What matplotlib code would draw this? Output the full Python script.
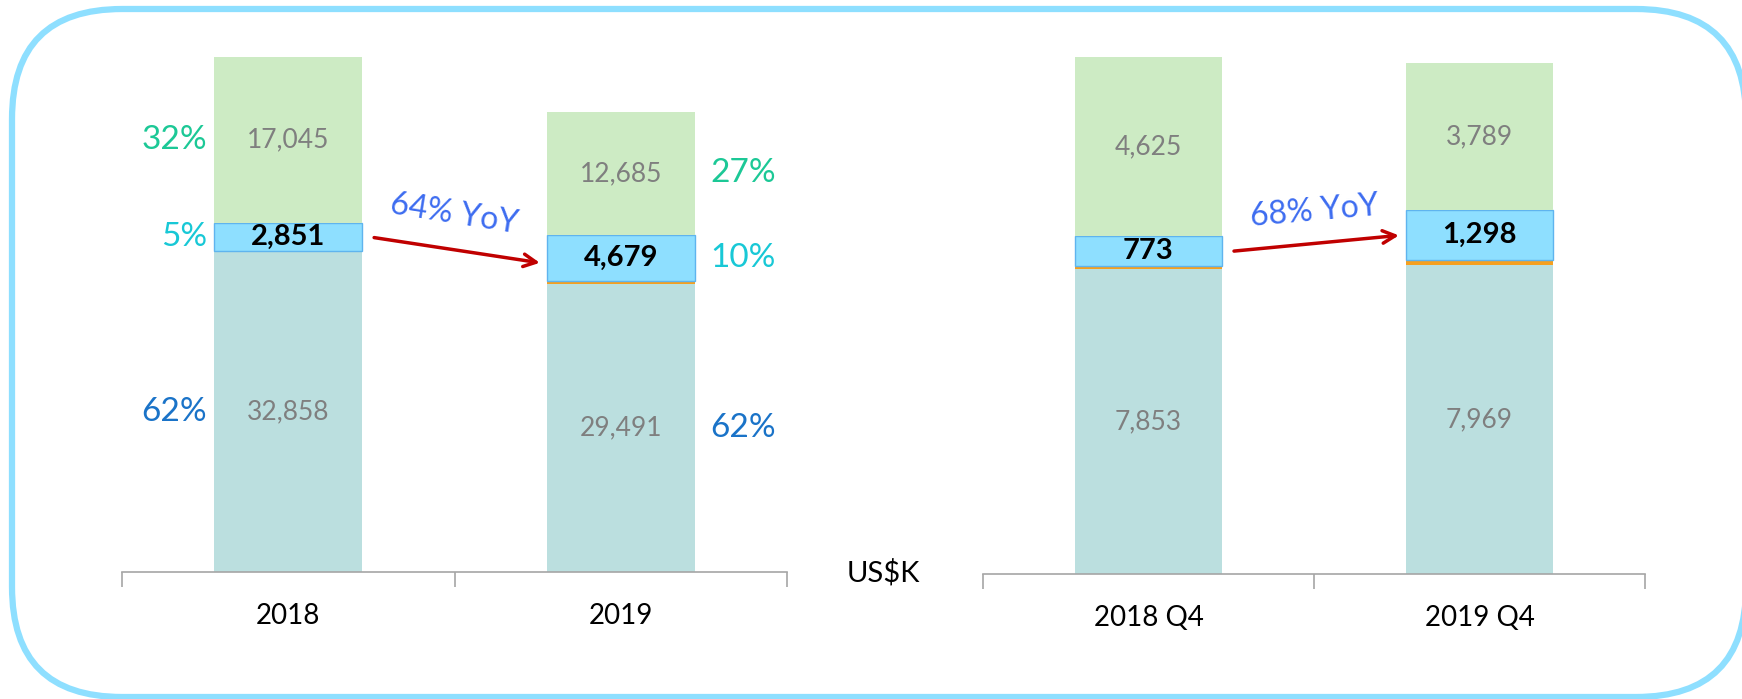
import matplotlib
matplotlib.use("Agg")
import matplotlib.pyplot as plt
from matplotlib.patches import FancyBboxPatch
import numpy as np

plt.rcParams["font.family"] = ["Lato", "DejaVu Sans"]

# annual data, US$K
years = ["2018", "2019"]
year_base = [32858, 29491]
year_orange = [40, 350]
year_blue = [2851, 4679]
year_top = [17045, 12685]
year_pct_top = ["32%", "27%"]
year_pct_blue = ["5%", "10%"]
year_pct_base = ["62%", "62%"]
year_yoy = "64% YoY"

# Q4 data, US$K
quarters = ["2018 Q4", "2019 Q4"]
q_base = [7853, 7969]
q_orange = [80, 120]
q_blue = [773, 1298]
q_top = [4625, 3789]
q_yoy = "68% YoY"

c_base = "#bbdfdf"
c_orange = "#f5a020"
c_blue = "#8edfff"
c_top = "#cdebc4"
c_grey = "#7f7f7f"
c_pct_top = "#1cc896"
c_pct_blue = "#18c8d6"
c_pct_base = "#1a73c8"
c_yoy = "#3d6cf0"
c_arrow = "#c00000"

W, H = 1742, 699
fig = plt.figure(figsize=(W / 100, H / 100), dpi=100)

# rounded frame
bg = fig.add_axes([0, 0, 1, 1], zorder=0)
bg.set_xlim(0, W)
bg.set_ylim(0, H)
bg.set_axis_off()
bg.add_patch(FancyBboxPatch((12, 2), 1734, 688, boxstyle="round,pad=0,rounding_size=110",
                            fc="white", ec="#8edfff", lw=4.5))

bw = 0.445


def draw(ax, cats, base, orange, blue, top, yoy, yoy_rot, arrow_dy):
    x = np.arange(len(cats))
    base = np.array(base)
    orange = np.array(orange)
    blue = np.array(blue)
    top = np.array(top)
    ax.bar(x, base, bw, color=c_base)
    ax.bar(x, orange, bw, bottom=base, color=c_orange)
    b2 = base + orange
    ax.bar(x, blue, bw, bottom=b2, color=c_blue, edgecolor="#5fb4ee", linewidth=1.0)
    b3 = b2 + blue
    ax.bar(x, top, bw, bottom=b3, color=c_top)
    total = b3 + top
    for i in x:
        ax.text(i, base[i] / 2, f"{base[i]:,}", ha="center", va="center", fontsize=19, color=c_grey)
        ax.text(i, b2[i] + blue[i] / 2, f"{blue[i]:,}", ha="center", va="center",
                fontsize=21, fontweight="bold", color="black")
        ax.text(i, b3[i] + top[i] / 2, f"{top[i]:,}", ha="center", va="center", fontsize=19, color=c_grey)
    ax.set_ylim(0, total[0])
    ax.set_xlim(-0.5, 1.5)
    for s in ["left", "right", "top"]:
        ax.spines[s].set_visible(False)
    ax.spines["bottom"].set_color("#a6a6a6")
    ax.spines["bottom"].set_linewidth(1.2)
    ax.set_yticks([])
    ax.set_xticks(x)
    ax.set_xticklabels(cats, fontsize=20)
    ax.tick_params(axis="x", which="major", length=0, pad=22)
    ax.set_xticks([-0.5, 0.5, 1.5], minor=True)
    ax.tick_params(axis="x", which="minor", length=11, width=1.2, color="#a6a6a6")
    # YoY arrow between blue segments
    y0 = b2[0] + blue[0] / 2
    y1 = b2[1] + blue[1] / 2 + arrow_dy * total[0]
    ax.annotate("", xy=(0.765, y1), xytext=(0.25, y0),
                arrowprops=dict(arrowstyle="->,head_length=0.9,head_width=0.45",
                                color=c_arrow, lw=2.5), annotation_clip=False)
    ax.text(0.5, max(y0, y1) + 0.045 * total[0], yoy, ha="center", va="center",
            fontsize=23, color=c_yoy, rotation=yoy_rot, rotation_mode="anchor")
    return base, b2, b3, top, blue


ax1 = fig.add_axes([122 / W, 127 / H, 665 / W, 515 / H], zorder=1)
ax1.patch.set_alpha(0)
base, b2, b3, top, blue = draw(ax1, years, year_base, year_orange, year_blue, year_top,
                               year_yoy, -9, -0.01)

# percentage labels beside the annual bars
xl, xr = -0.245, 1.27
ax1.text(xl, b3[0] + top[0] / 2, year_pct_top[0], ha="right", va="center", fontsize=24, color=c_pct_top)
ax1.text(xl, b2[0] + blue[0] / 2, year_pct_blue[0], ha="right", va="center", fontsize=24, color=c_pct_blue)
ax1.text(xl, base[0] / 2, year_pct_base[0], ha="right", va="center", fontsize=24, color=c_pct_base)
ax1.text(xr, b3[1] + top[1] / 2, year_pct_top[1], ha="left", va="center", fontsize=24, color=c_pct_top)
ax1.text(xr, b2[1] + blue[1] / 2, year_pct_blue[1], ha="left", va="center", fontsize=24, color=c_pct_blue)
ax1.text(xr, base[1] / 2, year_pct_base[1], ha="left", va="center", fontsize=24, color=c_pct_base)

ax2 = fig.add_axes([983 / W, 125 / H, 662 / W, 517 / H], zorder=1)
ax2.patch.set_alpha(0)
draw(ax2, quarters, q_base, q_orange, q_blue, q_top, q_yoy, 5, 0.0)

fig.text(883 / W, 1 - 573 / H, "US$K", ha="center", va="center", fontsize=21, color="black")

fig.savefig("out.png", dpi=100)
